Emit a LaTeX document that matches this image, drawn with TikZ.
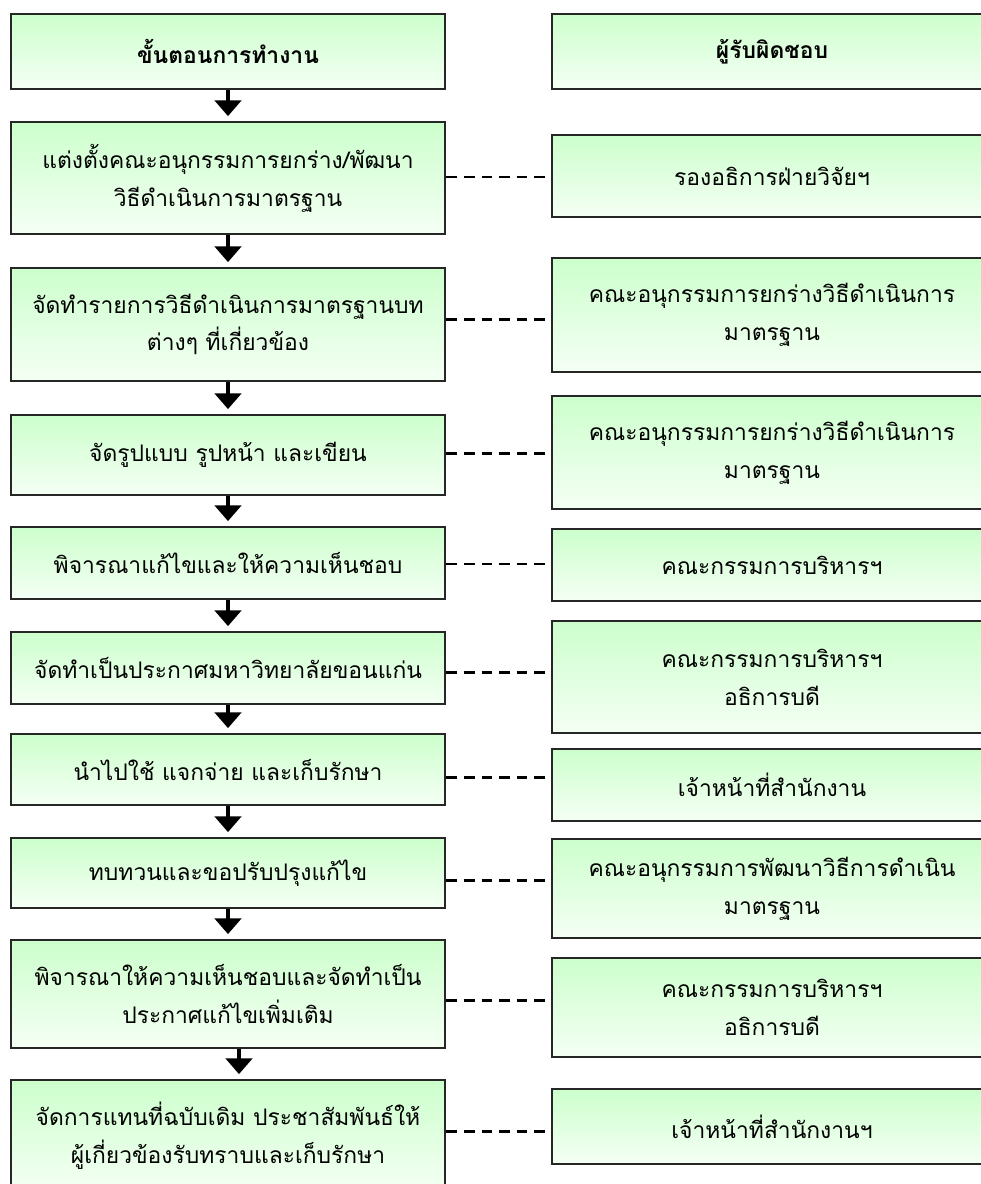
\documentclass[tikz,border=0pt]{standalone}
\usepackage{fontspec}
\newfontfamily\thaifont[Script=Thai]{Loma}
\usetikzlibrary{arrows.meta}
\begin{document}
\begin{tikzpicture}[x=0.02cm, y=-0.02cm, line width=1.1pt,
  main node/.style={rectangle, draw=black!85, top color=green!20, bottom color=green!4, align=center, inner sep=2pt, font=\thaifont\fontsize{13}{21.5}\selectfont},
  work node/.style={main node, minimum width=8.7cm, text width=8.4cm},
  resp node/.style={main node, minimum width=8.8cm, text width=8.5cm},
  flow/.style={line width=2.6pt, -{Triangle[width=15pt,length=9pt]}, shorten >=2.8pt},
  link/.style={dash pattern=on 6pt off 4pt, line width=1.5pt}]
\useasboundingbox (0,0) rectangle (981,1184);
\clip (0,0) rectangle (981,1184);
\begin{scope}% steps
\node[work node, minimum height=1.5cm] (L1) at (228,51.5) {\bfseries ขั้นตอนการทำงาน};%1
\node[work node, minimum height=2.24cm] (L2) at (228,178) {แต่งตั้งคณะอนุกรรมการยกร่าง/พัฒนา\\วิธีดำเนินการมาตรฐาน};%2
\node[work node, minimum height=2.26cm] (L3) at (228,324.5) {จัดทำรายการวิธีดำเนินการมาตรฐานบท\\ต่างๆ ที่เกี่ยวข้อง};%3
\node[work node, minimum height=1.6cm] (L4) at (228,455) {จัดรูปแบบ รูปหน้า และเขียน};%4
\node[work node, minimum height=1.44cm] (L5) at (228,563) {พิจารณาแก้ไขและให้ความเห็นชอบ};%5
\node[work node, minimum height=1.44cm] (L6) at (228,668) {จัดทำเป็นประกาศมหาวิทยาลัยขอนแก่น};%6
\node[work node, minimum height=1.42cm] (L7) at (228,769.5) {นำไปใช้ แจกจ่าย และเก็บรักษา};%7
\node[work node, minimum height=1.4cm] (L8) at (228,873) {ทบทวนและขอปรับปรุงแก้ไข};%8
\node[work node, minimum height=2.16cm] (L9) at (228,994) {พิจารณาให้ความเห็นชอบและจัดทำเป็น\\ประกาศแก้ไขเพิ่มเติม};%9
\node[work node, minimum height=2.24cm] (L10) at (228,1136) {จัดการแทนที่ฉบับเดิม ประชาสัมพันธ์ให้\\ผู้เกี่ยวข้องรับทราบและเก็บรักษา};%10
\end{scope}
\begin{scope}% responsible
\node[resp node, minimum height=1.5cm] (R1) at (772,51.5) {\bfseries ผู้รับผิดชอบ};%1
\node[resp node, minimum height=1.64cm] (R2) at (772,176) {รองอธิการฝ่ายวิจัยฯ};%2
\node[resp node, minimum height=2.28cm] (R3) at (772,315) {คณะอนุกรรมการยกร่างวิธีดำเนินการ\\มาตรฐาน};%3
\node[resp node, minimum height=2.26cm] (R4) at (772,452.5) {คณะอนุกรรมการยกร่างวิธีดำเนินการ\\มาตรฐาน};%4
\node[resp node, minimum height=1.44cm] (R5) at (772,565) {คณะกรรมการบริหารฯ};%5
\node[resp node, minimum height=2.24cm] (R6) at (772,677) {คณะกรรมการบริหารฯ\\อธิการบดี};%6
\node[resp node, minimum height=1.44cm] (R7) at (772,785) {เจ้าหน้าที่สำนักงาน};%7
\node[resp node, minimum height=1.98cm] (R8) at (772,888.5) {คณะอนุกรรมการพัฒนาวิธีการดำเนิน\\มาตรฐาน};%8
\node[resp node, minimum height=1.98cm] (R9) at (772,1007.5) {คณะกรรมการบริหารฯ\\อธิการบดี};%9
\node[resp node, minimum height=1.5cm] (R10) at (772,1126.5) {เจ้าหน้าที่สำนักงานฯ};%10
\end{scope}
\begin{scope}
\foreach \i [count=\j from 2] in {1,...,8}
  \draw[flow] (L\i) edge (L\j);
\draw[flow] ([xshift=0.22cm]L9.south) -- ([xshift=0.22cm]L10.north);
\foreach \i in {2,...,10}{
  \path (L\i.east) -- coordinate[midway] (m\i) (R\i.west);
  \draw[link] (L\i.east |- m\i) -- (R\i.west |- m\i);
}
\end{scope}
\end{tikzpicture}
\end{document}
